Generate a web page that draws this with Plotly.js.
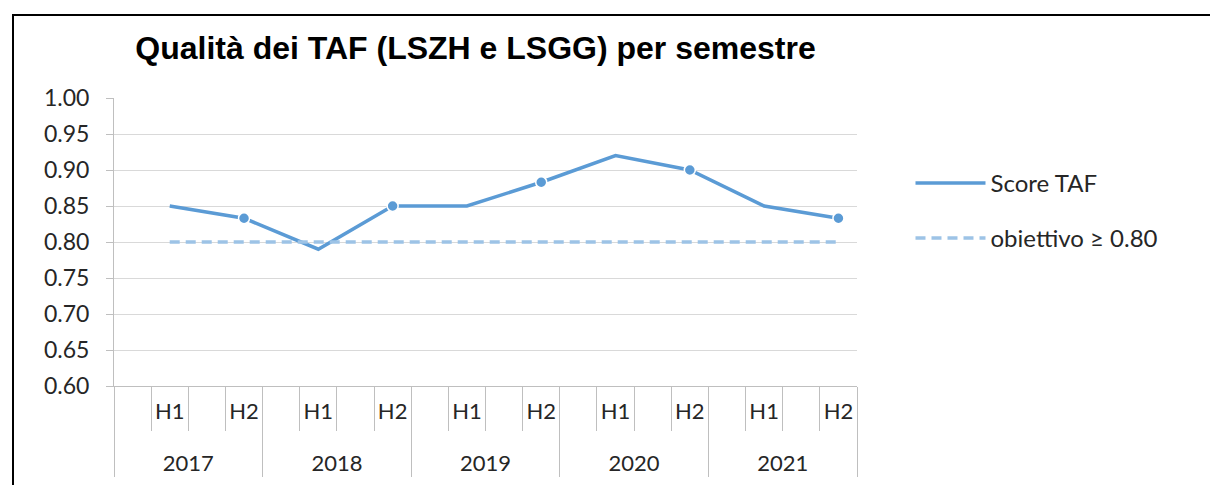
<!DOCTYPE html>
<html>
<head>
<meta charset="utf-8">
<script src="https://cdn.plot.ly/plotly-3.0.1.min.js"></script>
<style>
  html, body { margin: 0; padding: 0; background: #ffffff; overflow: hidden; }
  #frame { position: absolute; left: 12px; top: 14px; width: 1300px; height: 600px;
           border-left: 2px solid #000; border-top: 2px solid #000; }
  #chart { position: absolute; left: 0; top: 0; width: 1210px; height: 485px; }
</style>
</head>
<body>
<div id="frame"></div>
<div id="chart"></div>
<script>
// ---- data ----
const years = ['2017', '2018', '2019', '2020', '2021'];
const halves = ['H1', 'H2'];
// Score TAF per semester (2017 H1 ... 2021 H2)
const scoreTAF = [0.85, 0.833, 0.79, 0.85, 0.85, 0.883, 0.92, 0.90, 0.85, 0.833];
// target line (obiettivo >= 0.80)
const objective = [0.80, 0.80, 0.80, 0.80, 0.80, 0.80, 0.80, 0.80, 0.80, 0.80];
const yTickVals = [0.60, 0.65, 0.70, 0.75, 0.80, 0.85, 0.90, 0.95, 1.00];
const yTickText = ['0.60', '0.65', '0.70', '0.75', '0.80', '0.85', '0.90', '0.95', '1.00'];

// ---- build the Excel-like category axis: each year has 4 slots, H1 and H2 in slots 2 and 4 ----
const slotLabels = ['\u00a0', 'H1', '\u00a0\u00a0', 'H2'];
const xYear = [], xSub = [], yScore = [], yObj = [], yMark = [];
years.forEach((yr, yi) => {
  slotLabels.forEach(lab => {
    xYear.push(yr);
    const hi = halves.indexOf(lab);
    // trailing empty line gives the year row its Excel-like spacing
    xSub.push(hi >= 0 ? lab + '<br>\u00a0' : lab);
    if (hi >= 0) {
      const k = yi * 2 + hi;
      yScore.push(scoreTAF[k]);
      yObj.push(objective[k]);
      yMark.push(lab === 'H2' ? scoreTAF[k] : null);
    } else {
      yScore.push(null);
      yObj.push(null);
      yMark.push(null);
    }
  });
});

const blue = '#5b9bd5';
const lightBlue = '#9dc3e6';
const FONT = 'Lato, "Open Sans", sans-serif';

const traces = [
  {
    type: 'scatter', mode: 'lines', name: 'Score TAF',
    x: [xYear, xSub], y: yScore, connectgaps: true,
    line: { color: blue, width: 3.5 },
    legendgroup: 'a', hoverinfo: 'y'
  },
  {
    type: 'scatter', mode: 'lines', name: 'obiettivo \u2265 0.80',
    x: [xYear, xSub], y: yObj, connectgaps: true,
    line: { color: lightBlue, width: 3.5, dash: '10px,6px' },
    legendgroup: 'b', hoverinfo: 'y'
  },
  {
    type: 'scatter', mode: 'markers', name: 'Score TAF', showlegend: false,
    x: [xYear, xSub], y: yMark,
    marker: { color: blue, size: 11, line: { color: '#ffffff', width: 1.5 } },
    hoverinfo: 'y'
  }
];

const layout = {
  width: 1210, height: 485,
  margin: { l: 114, r: 353, t: 98, b: 99, pad: 0 },
  paper_bgcolor: 'rgba(0,0,0,0)',
  plot_bgcolor: 'rgba(0,0,0,0)',
  font: { family: FONT, size: 22, color: '#262626' },
  title: {
    text: 'Qualità dei TAF (LSZH e LSGG) per semestre',
    font: { family: '"Liberation Sans", Arial, sans-serif', size: 32, color: '#000000', weight: 'bold' },
    x: 0.393, xanchor: 'center', xref: 'container',
    y: 0.902, yanchor: 'middle', yref: 'container'
  },
  xaxis: {
    type: 'multicategory',
    range: [-0.5, 19.5],
    autorange: false,
    showgrid: false,
    showline: true, linecolor: '#bfbfbf', linewidth: 1,
    ticks: 'outside', tickson: 'boundaries', ticklen: 44, tickcolor: '#bfbfbf', tickwidth: 1,
    tickangle: 0,
    ticklabelstandoff: 6,
    showdividers: true, dividercolor: '#bfbfbf', dividerwidth: 1,
    tickfont: { family: FONT, size: 22, color: '#262626' },
    zeroline: false
  },
  yaxis: {
    range: [0.60, 1.00],
    tickvals: yTickVals, ticktext: yTickText,
    showgrid: true, gridcolor: '#d9d9d9', gridwidth: 1,
    showline: true, linecolor: '#bfbfbf', linewidth: 1,
    ticks: 'outside', ticklen: 7, tickcolor: '#bfbfbf',
    ticklabelstandoff: 12,
    tickfont: { family: FONT, size: 23, color: '#262626' },
    zeroline: false
  },
  showlegend: true,
  legend: {
    x: 1.072, xanchor: 'left', xref: 'paper',
    y: 0.782, yanchor: 'top',
    itemwidth: 70,
    tracegroupgap: 21,
    bgcolor: 'rgba(0,0,0,0)', borderwidth: 0,
    font: { family: FONT, size: 24, color: '#262626' }
  }
};

Plotly.newPlot('chart', traces, layout, { displayModeBar: false, staticPlot: true });
</script>
</body>
</html>
